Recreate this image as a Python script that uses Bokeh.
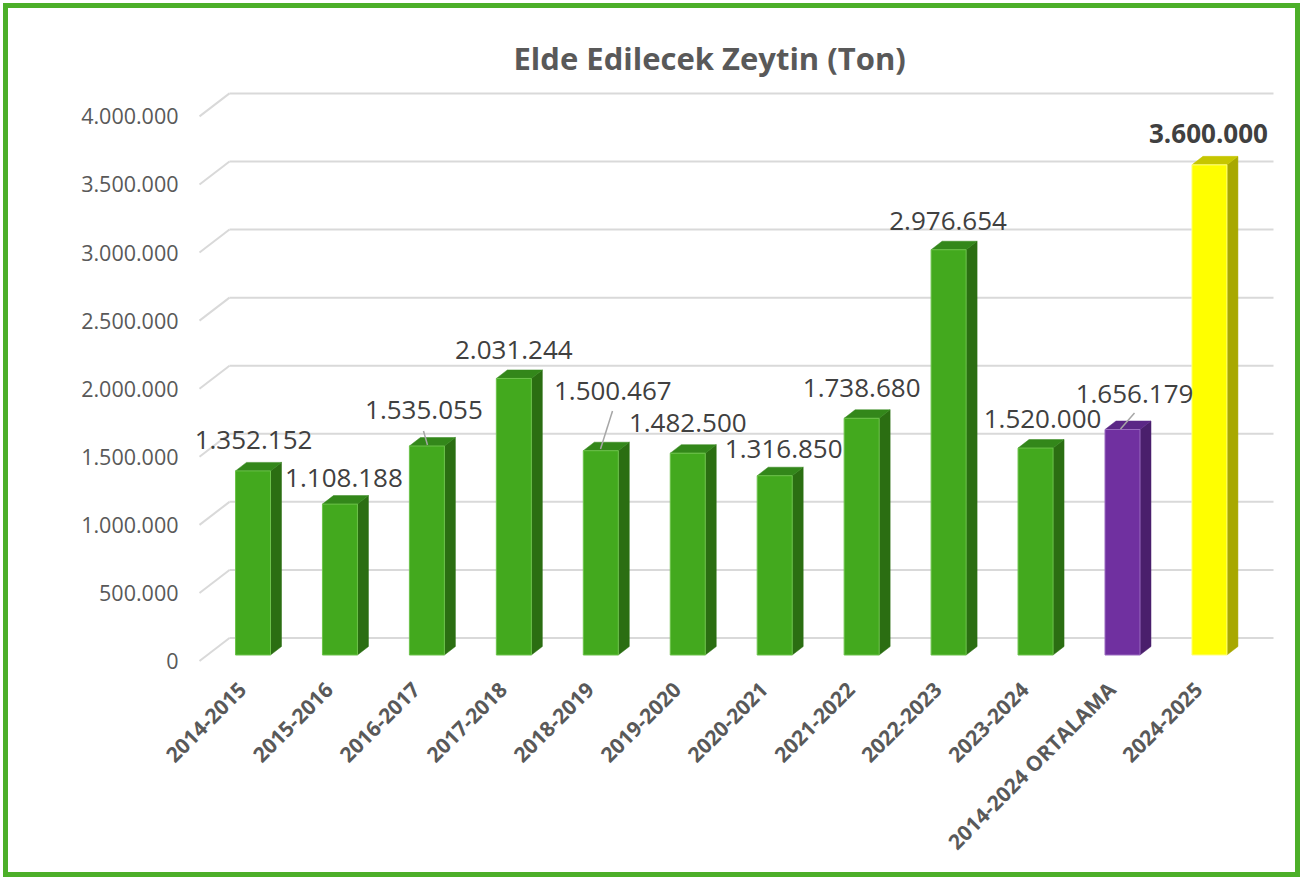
import math
from bokeh.plotting import figure
from bokeh.layouts import column
from bokeh.models import Range1d, FixedTicker, ColumnDataSource
from bokeh.core.properties import value
from bokeh.embed import file_html
from bokeh.resources import INLINE

# ---------------- data ----------------
categories = ["2014-2015", "2015-2016", "2016-2017", "2017-2018", "2018-2019",
              "2019-2020", "2020-2021", "2021-2022", "2022-2023", "2023-2024",
              "2014-2024 ORTALAMA", "2024-2025"]
production = [1352152, 1108188, 1535055, 2031244, 1500467, 1482500,
              1316850, 1738680, 2976654, 1520000, 1656179, 3600000]
y_ticks = [0, 500000, 1000000, 1500000, 2000000, 2500000, 3000000, 3500000, 4000000]
title_text = "Elde Edilecek Zeytin (Ton)"

def tr_fmt(v):
    return f"{v:,}".replace(",", ".")

y_tick_labels = [tr_fmt(t) for t in y_ticks]
value_labels = [tr_fmt(v) for v in production]

# ---------------- styles ----------------
kind = ["g"] * 10 + ["p", "y"]
palette = {
    "g": ("#43A91E", "#2B6E12", "#33871A", "#6CC24A"),
    "p": ("#7030A0", "#4A1F6C", "#5B2786", "#9A6BC0"),
    "y": ("#FFFF00", "#A8A800", "#C6C600", "#FFFF80"),
}
# label offsets (px) relative to the front-top centre of each bar
lab_dx = [0.5, 4, -3, 0, 12, 0, 9, 0, -0.5, 7, 12, -1]
lab_dy = [-31, -26, -36, -28, -60, -30, -27, -30, -29, -29, -36, -31]
lab_style = ["normal"] * 11 + ["bold"]
# leader lines: (bar index, x0, y0, x1, y1) px offsets from bar front-top centre
leaders = [(2, -3.4, -15, 0.6, -1), (4, 11.7, -39.7, -0.3, -1.7), (10, 12, -16.5, -2, -0.5)]

W, H = 1287, 864
OFF = 8                        # figure offset inside the page (3px margin + 5px frame)
# image-space mapping
X0, KX = 252.5, 86.95          # px for category 0, px per category
Y0, KY = 660.5, 136.15e-6      # px of value 0 on front plane, px per ton
L, R, T, B = 195, 1285, 80, 665
LABEL_SHIFT_PX = -11           # category labels sit slightly left of the bar centre

p = figure(width=W, height=H, output_backend="svg", toolbar_location=None,
           x_range=Range1d((L - X0) / KX, (R - X0) / KX),
           y_range=Range1d(-(B - Y0) / KY, (Y0 - T) / KY),
           min_border_left=L - OFF, min_border_right=W - (R - OFF),
           min_border_top=T - OFF, min_border_bottom=H - (B - OFF))
p.outline_line_color = None
p.background_fill_color = "white"
p.border_fill_color = "white"
p.xgrid.visible = False
p.ygrid.visible = False

# title
p.title.text = title_text
p.title.align = "left"
p.title.offset = 318
p.title.text_font = "Open Sans"
p.title.text_font_style = "bold"
p.title.text_font_size = "31px"
p.title.text_color = "#595959"
p.title.standoff = 4

# axes
p.yaxis.ticker = FixedTicker(ticks=y_ticks)
p.yaxis.major_label_overrides = {t: s for t, s in zip(y_ticks, y_tick_labels)}
p.yaxis.axis_line_color = None
p.yaxis.major_tick_line_color = None
p.yaxis.minor_tick_line_color = None
p.yaxis.major_tick_out = 0
p.yaxis.major_label_standoff = 17
p.yaxis.major_label_text_font = "Open Sans"
p.yaxis.major_label_text_font_size = "21.5px"
p.yaxis.major_label_text_color = "#595959"

idx = list(range(len(categories)))
x_tick_pos = [i + LABEL_SHIFT_PX / KX for i in idx]
p.xaxis.ticker = FixedTicker(ticks=x_tick_pos)
p.xaxis.major_label_overrides = {t: c for t, c in zip(x_tick_pos, categories)}
p.xaxis.axis_line_color = None
p.xaxis.major_tick_line_color = None
p.xaxis.minor_tick_line_color = None
p.xaxis.major_tick_out = 0
p.xaxis.major_label_standoff = 20
p.xaxis.major_label_orientation = math.pi / 4
p.xaxis.major_label_text_font = "Open Sans"
p.xaxis.major_label_text_font_style = "bold"
p.xaxis.major_label_text_font_size = "21px"
p.xaxis.major_label_text_color = "#595959"

# 3D back-wall gridlines
dxp = lambda px: px / KX
dyp = lambda px: px / KY
xd0, xd1, xh1 = (199 - X0) / KX, (229 - X0) / KX, (1273 - X0) / KX
p.segment(x0=[xd0] * len(y_ticks), y0=y_ticks, x1=[xd1] * len(y_ticks),
          y1=[t + dyp(23) for t in y_ticks], line_color="#D9D9D9", line_width=2)
p.segment(x0=[xd1] * len(y_ticks), y0=[t + dyp(23) for t in y_ticks],
          x1=[xh1] * len(y_ticks), y1=[t + dyp(23) for t in y_ticks],
          line_color="#D9D9D9", line_width=2)

# bars
hw = dxp(17.5)
base = dyp(6)
ddx, ddy = dxp(11), dyp(8.5)
front = dict(left=[], right=[], bottom=[], top=[], fill=[], edge=[])
side = dict(xs=[], ys=[], fill=[])
topf = dict(xs=[], ys=[], fill=[])
for i, v in enumerate(production):
    c_front, c_side, c_top, c_edge = palette[kind[i]]
    top = v + base
    front["left"].append(i - hw); front["right"].append(i + hw)
    front["bottom"].append(base); front["top"].append(top)
    front["fill"].append(c_front); front["edge"].append(c_edge)
    side["xs"].append([i + hw, i + hw + ddx, i + hw + ddx, i + hw])
    side["ys"].append([base, base + ddy, top + ddy, top])
    side["fill"].append(c_side)
    topf["xs"].append([i - hw, i - hw + ddx, i + hw + ddx, i + hw])
    topf["ys"].append([top, top + ddy, top + ddy, top])
    topf["fill"].append(c_top)

p.patches("xs", "ys", source=ColumnDataSource(side), fill_color="fill", line_color="fill", line_width=0.5)
p.patches("xs", "ys", source=ColumnDataSource(topf), fill_color="fill", line_color="fill", line_width=0.5)
p.quad(left="left", right="right", bottom="bottom", top="top", source=ColumnDataSource(front),
       fill_color="fill", line_color="edge", line_width=1)

# leader lines
p.segment(x0=[lk + dxp(a) for lk, a, b, c, d in leaders],
          y0=[production[lk] + base - dyp(b) for lk, a, b, c, d in leaders],
          x1=[lk + dxp(c) for lk, a, b, c, d in leaders],
          y1=[production[lk] + base - dyp(d) for lk, a, b, c, d in leaders],
          line_color="#A6A6A6", line_width=1.5)

# value labels
lab = ColumnDataSource(dict(
    x=[i + dxp(lab_dx[i]) for i in idx],
    y=[production[i] + base - dyp(lab_dy[i]) for i in idx],
    text=value_labels, fstyle=lab_style))
p.text(x="x", y="y", text="text", source=lab, text_font=value("Open Sans"),
       text_font_size="26px", text_font_style="fstyle", text_align="center",
       text_baseline="middle", text_color="#404040")

root = column(p, styles={"border": "5px solid #4CAF29", "margin": "3px",
                         "background-color": "white"})

open("out.html", "w").write(file_html(root, INLINE))
